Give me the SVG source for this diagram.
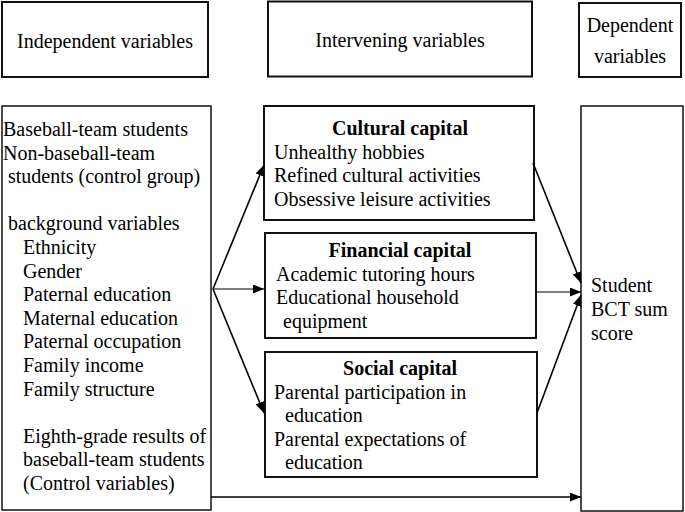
<svg xmlns="http://www.w3.org/2000/svg" width="685" height="512" viewBox="0 0 685 512">
<style>
  .box { fill: #fff; stroke: #111; stroke-width: 2; }
  .thin { fill: #fff; stroke: #111; stroke-width: 1.5; }
  text { font-family: "Liberation Serif", "Times New Roman", serif; font-size: 20px; fill: #000; }
  .c { text-anchor: middle; }
  .b { font-weight: bold; }
  .con { stroke: #000; stroke-width: 1.6; fill: none; marker-end: url(#ah); }
  .conh { stroke: #000; stroke-width: 1.2; fill: none; marker-end: url(#ah); }
</style>
<defs>
  <marker id="ah" markerUnits="userSpaceOnUse" markerWidth="12" markerHeight="10" refX="11" refY="4.5" orient="auto">
    <path d="M0,0 L11,4.5 L0,9 z" fill="#000"/>
  </marker>
</defs>
<rect width="685" height="512" fill="#fff"/>

<g id="hdr-independent">
  <rect class="box" x="2" y="2" width="206" height="75"/>
  <text class="c" x="105" y="48">Independent variables</text>
</g>
<g id="hdr-intervening">
  <rect class="box" x="268" y="1.5" width="264" height="75"/>
  <text class="c" x="400" y="47">Intervening variables</text>
</g>
<g id="hdr-dependent">
  <rect class="box" x="579" y="3" width="102" height="74"/>
  <text class="c" x="630" y="32">Dependent</text>
  <text class="c" x="630" y="63">variables</text>
</g>

<g id="independent">
  <rect class="thin" x="2" y="106" width="209" height="404"/>
  <text x="3" y="136">Baseball-team students</text>
  <text x="3" y="159.6">Non-baseball-team</text>
  <text x="8" y="183.2">students (control group)</text>
  <text x="8" y="230.4">background variables</text>
  <text x="23" y="254">Ethnicity</text>
  <text x="23" y="277.6">Gender</text>
  <text x="23" y="301.2">Paternal education</text>
  <text x="23" y="324.8">Maternal education</text>
  <text x="23" y="348.4">Paternal occupation</text>
  <text x="23" y="372">Family income</text>
  <text x="23" y="395.6">Family structure</text>
  <text x="23" y="442.8">Eighth-grade results of</text>
  <text x="23" y="466.4">baseball-team students</text>
  <text x="23" y="490">(Control variables)</text>
</g>

<g id="cultural">
  <rect class="box" x="264" y="106" width="270" height="114"/>
  <text class="c b" x="400" y="135">Cultural capital</text>
  <text x="274" y="158.6">Unhealthy hobbies</text>
  <text x="274" y="182.2">Refined cultural activities</text>
  <text x="274" y="205.8">Obsessive leisure activities</text>
</g>

<g id="financial">
  <rect class="box" x="265" y="233" width="271" height="105"/>
  <text class="c b" x="400" y="257">Financial capital</text>
  <text x="276" y="280.6">Academic tutoring hours</text>
  <text x="276" y="304.2">Educational household</text>
  <text x="283" y="327.8">equipment</text>
</g>

<g id="social">
  <rect class="box" x="265" y="352" width="272" height="125"/>
  <text class="c b" x="400" y="375">Social capital</text>
  <text x="274" y="398.6">Parental participation in</text>
  <text x="285" y="422.2">education</text>
  <text x="274" y="445.8">Parental expectations of</text>
  <text x="285" y="469.4">education</text>
</g>

<g id="dependent">
  <rect class="thin" x="581" y="106" width="102" height="405"/>
  <text x="591" y="292">Student</text>
  <text x="591" y="316">BCT sum</text>
  <text x="591" y="340">score</text>
</g>

<g id="connectors">
  <line class="con" x1="213" y1="289" x2="264" y2="165"/>
  <line class="conh" x1="213" y1="289" x2="264" y2="289"/>
  <line class="con" x1="213" y1="289" x2="264" y2="413"/>
  <line class="con" x1="533" y1="163" x2="581" y2="283"/>
  <line class="conh" x1="536" y1="292" x2="581" y2="292"/>
  <line class="con" x1="537" y1="413" x2="581" y2="295"/>
  <line class="con" x1="211" y1="497" x2="581" y2="497"/>
</g>
</svg>
